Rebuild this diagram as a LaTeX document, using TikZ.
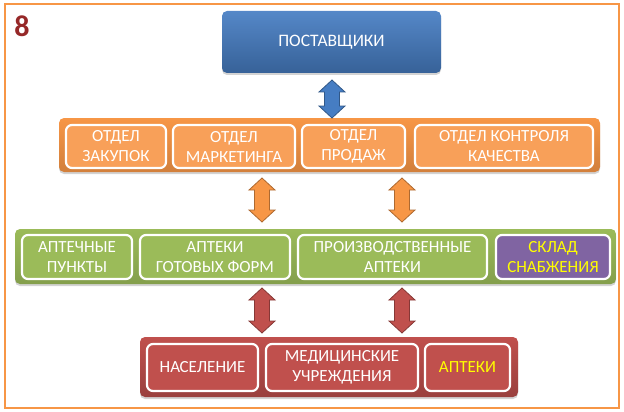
\documentclass[tikz,border=0pt]{standalone}
\usepackage{fontspec}
\setmainfont{Carlito}
\usepackage{xcolor}
\usepackage{tikz}
\usetikzlibrary{shadows}
\definecolor{frameorange}{RGB}{247, 150, 70}
\definecolor{suppblue}{RGB}{70, 125, 195}
\definecolor{deptorange}{RGB}{247, 150, 70}
\definecolor{pharmgreen}{RGB}{155, 187, 89}
\definecolor{stockviolet}{RGB}{128, 100, 162}
\definecolor{clientred}{RGB}{192, 80, 77}
\definecolor{numred}{RGB}{150, 40, 40}
\definecolor{textyellow}{RGB}{255, 255, 0}

\begin{document}
\begin{tikzpicture}[x=1pt, y=-1pt,
                band/.style={rectangle, rounded corners=5pt, drop shadow={opacity=0.35,
                             shadow xshift=0pt, shadow yshift=-2pt}},
                unit/.style={draw=white, line width=2.2pt, rounded corners=6pt,
                             align=center, text=white, inner sep=1pt,
                             font=\fontsize{17}{20}\selectfont},
                pics/link/.style 2 args={code={
                    \draw[fill=#2, draw=#2!70!black, line width=0.8pt]
                      (0,0) -- (13,12) -- (7.5,12) -- (7.5,{#1-12}) -- (13,{#1-12})
                      -- (0,#1) -- (-13,{#1-12}) -- (-7.5,{#1-12}) -- (-7.5,12)
                      -- (-13,12) -- cycle;}}]
                \useasboundingbox (0,0) rectangle (624,412);
                \draw[frameorange, line width=1.8pt] (5,4) rectangle (619,408);
                \node[text=numred, font=\fontsize{30}{30}\selectfont\bfseries] (num) at (22,26) {8};

                \node[band, top color=suppblue!92!white, bottom color=suppblue!78!black,
                      minimum width=219pt, minimum height=62pt, text=white,
                      font=\fontsize{17.5}{20}\selectfont] (supp) at (331.5,42) {ПОСТАВЩИКИ};

                \node[band, top color=deptorange, bottom color=deptorange!85!black,
                      minimum width=541pt, minimum height=54pt] (dept) at (329.5,145) {};
                \node[unit, fill=deptorange!90!white, minimum width=100pt, minimum height=43pt]
                      (buy) at (116,146.5) {ОТДЕЛ\\ЗАКУПОК};
                \node[unit, fill=deptorange!90!white, minimum width=122pt, minimum height=43pt]
                      (mark) at (234,146.5) {ОТДЕЛ\\МАРКЕТИНГА};
                \node[unit, fill=deptorange!90!white, minimum width=103pt, minimum height=43pt]
                      (sale) at (353.5,146.5) {ОТДЕЛ\\ПРОДАЖ};
                \node[unit, fill=deptorange!90!white, minimum width=178pt, minimum height=43pt]
                      (qual) at (504,146.5) {ОТДЕЛ КОНТРОЛЯ\\КАЧЕСТВА};

                \node[band, top color=pharmgreen, bottom color=pharmgreen!85!black,
                      minimum width=601pt, minimum height=55pt] (pharm) at (315.5,256.5) {};
                \node[unit, fill=pharmgreen, minimum width=110pt, minimum height=44pt]
                      (point) at (77,257) {АПТЕЧНЫЕ\\ПУНКТЫ};
                \node[unit, fill=pharmgreen, minimum width=150pt, minimum height=44pt]
                      (ready) at (215,257) {АПТЕКИ\\ГОТОВЫХ ФОРМ};
                \node[unit, fill=pharmgreen, minimum width=189pt, minimum height=44pt]
                      (prod) at (392.5,257) {ПРОИЗВОДСТВЕННЫЕ\\АПТЕКИ};
                \node[unit, fill=stockviolet, text=textyellow, minimum width=114pt,
                      minimum height=44pt] (stock) at (553,257) {СКЛАД\\СНАБЖЕНИЯ};

                \node[band, top color=clientred, bottom color=clientred!80!black,
                      minimum width=378pt, minimum height=60pt] (client) at (329,367) {};
                \node[unit, fill=clientred, minimum width=111pt, minimum height=47pt]
                      (people) at (202.5,367.5) {НАСЕЛЕНИЕ};
                \node[unit, fill=clientred, minimum width=152pt, minimum height=47pt]
                      (med) at (342,367.5) {МЕДИЦИНСКИЕ\\УЧРЕЖДЕНИЯ};
                \node[unit, fill=clientred, text=textyellow, minimum width=85pt,
                      minimum height=47pt] (shop) at (467.5,367.5) {АПТЕКИ};

                \pic (a1) at (332,80) {link={38}{suppblue}};
                \pic (a2) at (262,178) {link={44}{deptorange}};
                \pic (a3) at (402,178) {link={44}{deptorange}};
                \pic (a4) at (262,288) {link={45}{clientred}};
                \pic (a5) at (402,288) {link={45}{clientred}};
            \end{tikzpicture}
\end{document}
